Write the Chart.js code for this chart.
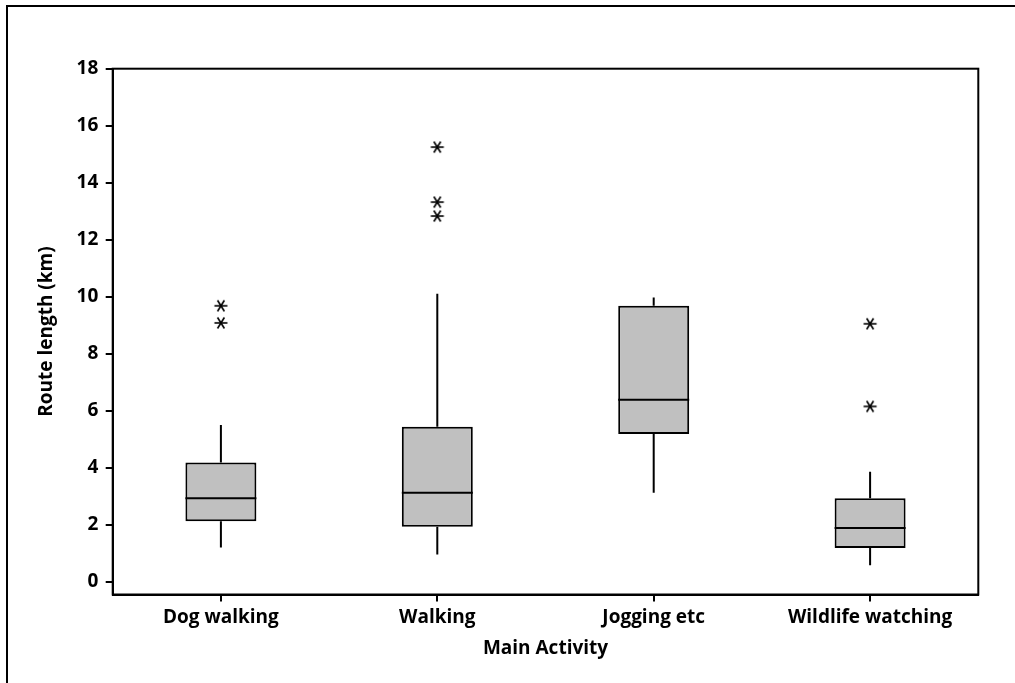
<!DOCTYPE html>
<html><head><meta charset="utf-8">
<script src="https://cdn.jsdelivr.net/npm/chart.js@4/dist/chart.umd.min.js"></script>
<style>
html,body{margin:0;padding:0;background:#fff;}
#wrap{position:relative;width:1015px;height:683px;overflow:hidden;}
#frame{position:absolute;left:6px;top:5px;width:1100px;height:800px;border-left:2px solid #000;border-top:2px solid #000;}
canvas{position:absolute;left:0;top:0;}
</style></head><body>
<div id="wrap"><div id="frame"></div><canvas id="c" width="1015" height="683"></canvas></div>
<script>
const categories = ['Dog walking', 'Walking', 'Jogging etc', 'Wildlife watching'];
const whiskerLow = [1.2, 0.95, 3.12, 0.58];
const q1 = [2.12, 1.93, 5.18, 1.18];
const median = [2.93, 3.12, 6.38, 1.88];
const q3 = [4.18, 5.44, 9.68, 2.93];
const whiskerHigh = [5.5, 10.1, 9.97, 3.86];
const outlierCategory = ['Dog walking', 'Dog walking', 'Walking', 'Walking', 'Walking', 'Wildlife watching', 'Wildlife watching'];
const outlierValue = [9.68, 9.08, 15.25, 13.32, 12.83, 9.05, 6.15];
const yTicks = [0, 2, 4, 6, 8, 10, 12, 14, 16, 18];

function makeAsterisk() {
  const s = 16, c = document.createElement('canvas');
  c.width = s; c.height = s;
  const g = c.getContext('2d');
  g.strokeStyle = '#000'; g.lineWidth = 1.6;
  const r = 6.5, cx = s / 2, cy = s / 2;
  [0, 58, 122].forEach(a => {
    const t = a * Math.PI / 180;
    g.beginPath();
    g.moveTo(cx - r * Math.cos(t), cy - r * Math.sin(t));
    g.lineTo(cx + r * Math.cos(t), cy + r * Math.sin(t));
    g.stroke();
  });
  return c;
}

const boxPlugin = {
  id: 'boxParts',
  afterDatasetsDraw(chart) {
    const {ctx, scales: {x, y}} = chart;
    const meta = chart.getDatasetMeta(0);
    ctx.save();
    ctx.strokeStyle = '#000';
    ctx.lineWidth = 2;
    categories.forEach((c, i) => {
      const bar = meta.data[i];
      const px = x.getPixelForValue(i);
      const hw = bar.width / 2;
      ctx.beginPath();
      ctx.moveTo(px, y.getPixelForValue(q3[i])); ctx.lineTo(px, y.getPixelForValue(whiskerHigh[i]));
      ctx.moveTo(px, y.getPixelForValue(q1[i])); ctx.lineTo(px, y.getPixelForValue(whiskerLow[i]));
      ctx.moveTo(px - hw, y.getPixelForValue(median[i])); ctx.lineTo(px + hw, y.getPixelForValue(median[i]));
      ctx.stroke();
    });
    const a = chart.chartArea;
    ctx.lineWidth = 2;
    ctx.strokeRect(a.left, a.top, a.right - a.left, a.bottom - a.top);
    ctx.restore();
  }
};

const labelFont = {family: "'Open Sans'", weight: 'bold', size: 19};

new Chart(document.getElementById('c'), {
  type: 'bar',
  data: {
    labels: categories,
    datasets: [
      {
        type: 'bar',
        data: categories.map((c, i) => [q1[i], q3[i]]),
        backgroundColor: '#c0c0c0',
        borderColor: '#000',
        borderWidth: 2,
        borderSkipped: false,
        barPercentage: 0.328,
        categoryPercentage: 1,
        order: 2
      },
      {
        type: 'scatter',
        data: outlierValue.map((v, i) => ({x: outlierCategory[i], y: v})),
        pointStyle: makeAsterisk(),
        radius: 7,
        order: 1
      }
    ]
  },
  options: {
    responsive: false,
    animation: false,
    layout: {padding: {top: 68.7, right: 36.7, left: 0, bottom: 0}},
    plugins: {legend: {display: false}, tooltip: {enabled: false}},
    scales: {
      x: {
        type: 'category',
        offset: true,
        grid: {display: true, drawOnChartArea: false, offset: false, tickLength: 7, color: '#000', lineWidth: 2},
        border: {display: true, color: '#000', width: 2},
        ticks: {color: '#000', font: labelFont, padding: 4.5, maxRotation: 0, autoSkip: false},
        title: {display: true, text: 'Main Activity', color: '#000', font: labelFont, padding: {top: 0, bottom: 22.8}},
        afterFit(s) { s.height = 88.5; }
      },
      y: {
        type: 'linear',
        min: -0.45,
        max: 18,
        grid: {display: true, drawOnChartArea: false, tickLength: 7, color: '#000', lineWidth: 2},
        border: {display: true, color: '#000', width: 2},
        ticks: {color: '#000', font: labelFont, padding: 7.4},
        title: {display: true, text: 'Route length (km)', color: '#000', font: labelFont, padding: {top: 35.6, bottom: 0}},
        afterBuildTicks(s) { s.ticks = yTicks.map(v => ({value: v})); },
        afterFit(s) { s.width = 112.7; }
      }
    }
  },
  plugins: [boxPlugin]
});
</script>
</body></html>
